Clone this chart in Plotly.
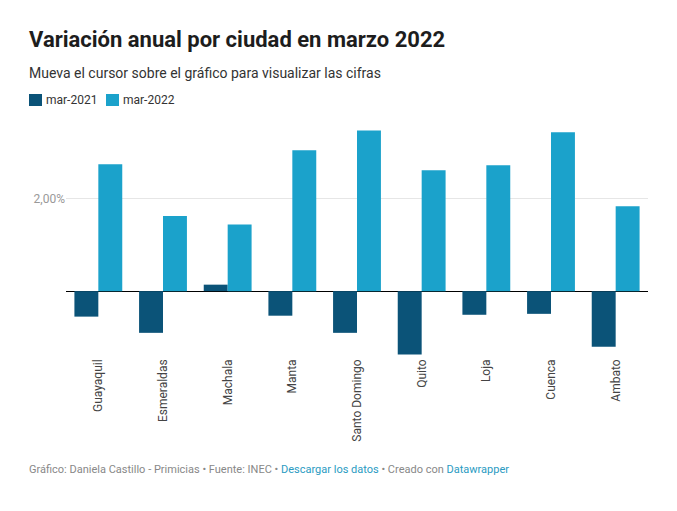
import plotly.graph_objects as go

ciudades = ["Guayaquil", "Esmeraldas", "Machala", "Manta", "Santo Domingo",
            "Quito", "Loja", "Cuenca", "Ambato"]
mar_2021 = [-0.55, -0.90, 0.14, -0.53, -0.90, -1.37, -0.51, -0.49, -1.20]
mar_2022 = [2.74, 1.62, 1.44, 3.04, 3.47, 2.61, 2.72, 3.43, 1.83]
series = ["mar-2021", "mar-2022"]

color_2021 = "#0b5378"
color_2022 = "#1ba2cb"

# la pagina deja 8px de margen, la figura se corre 8px
FW, FH = 669, 503
L, T, W, H = 58, 121, 582, 227


def px_x(x):
    return (x - L) / W


def px_y(y):
    return (T + H - y) / H


fig = go.Figure()
fig.add_trace(go.Bar(x=ciudades, y=mar_2021, name=series[0],
                     marker=dict(color=color_2021, line_width=0)))
fig.add_trace(go.Bar(x=ciudades, y=mar_2022, name=series[1],
                     marker=dict(color=color_2022, line_width=0)))

fig.update_layout(
    width=FW, height=FH,
    barmode="group", bargap=0.26, bargroupgap=0,
    paper_bgcolor="white", plot_bgcolor="white",
    font=dict(family="Roboto", size=12, color="#333333"),
    margin=dict(l=L, r=FW - L - W, t=T, b=FH - T - H, autoexpand=False),
    showlegend=False,
)

fig.update_yaxes(range=[-1.4, 3.5], tickvals=[2], ticktext=["2,00%"],
                 showgrid=True, gridcolor="#e6e6e6", gridwidth=1,
                 zeroline=True, zerolinecolor="#000000", zerolinewidth=1,
                 tickfont=dict(color="#999999", size=12), ticks="",
                 fixedrange=True)
fig.update_xaxes(tickangle=-90, tickfont=dict(color="#444444", size=12),
                 showline=False, ticks="", fixedrange=True)

# leyenda manual (cuadro + texto)
for i, (nombre, col) in enumerate(zip(series, [color_2021, color_2022])):
    x0 = 21 + 77 * i
    fig.add_shape(type="rect", xref="paper", yref="paper",
                  x0=px_x(x0), x1=px_x(x0 + 13), y0=px_y(98), y1=px_y(86),
                  fillcolor=col, line_width=0)
    fig.add_annotation(text=nombre, xref="paper", yref="paper",
                       x=px_x(x0 + 15), y=px_y(92), xanchor="left", yanchor="middle",
                       showarrow=False, font=dict(size=12, color="#333333"))

# titulo, subtitulo y pie
fig.add_annotation(text="<b>Variación anual por ciudad en marzo 2022</b>",
                   xref="paper", yref="paper", x=px_x(19), y=px_y(17),
                   xanchor="left", yanchor="top", showarrow=False,
                   font=dict(size=22, color="#1d1d1d"))
fig.add_annotation(text="Mueva el cursor sobre el gráfico para visualizar las cifras",
                   xref="paper", yref="paper", x=px_x(19), y=px_y(55),
                   xanchor="left", yanchor="top", showarrow=False,
                   font=dict(size=14, color="#333333"))
fig.add_annotation(
    text="Gráfico: Daniela Castillo - Primicias • Fuente: INEC • "
         "<span style='color:#2a9bc2'>Descargar los datos</span> • Creado con "
         "<span style='color:#2a9bc2'>Datawrapper</span>",
    xref="paper", yref="paper", x=px_x(19), y=px_y(453),
    xanchor="left", yanchor="top", showarrow=False,
    font=dict(size=11, color="#888888"))

fig.write_html("out.html")
